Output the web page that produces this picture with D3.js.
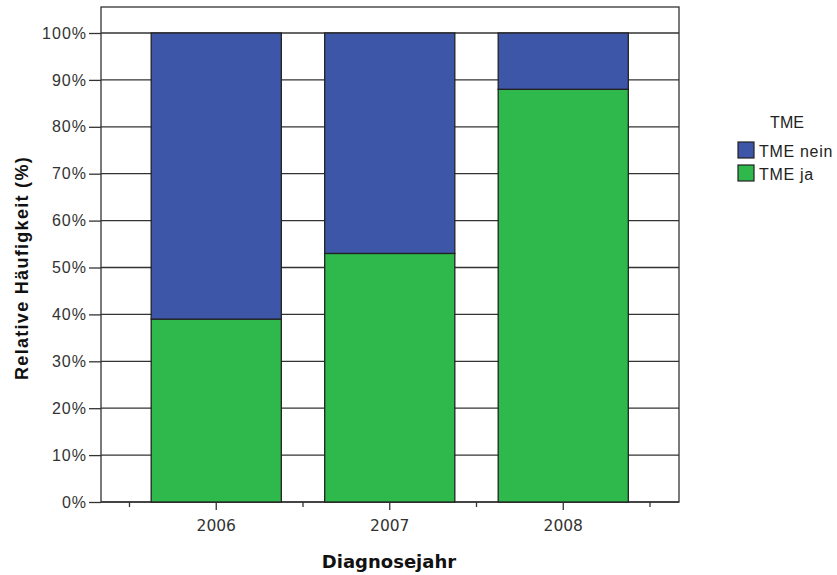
<!DOCTYPE html>
<html>
<head>
<meta charset="utf-8">
<script src="https://cdn.jsdelivr.net/npm/d3@7"></script>
<style>
  body { margin: 0; background: #fff; }
  svg { display: block; }
</style>
</head>
<body>
<div id="chart"></div>
<script>
// data
var years = ["2006", "2007", "2008"];
var tmeJa = [39, 53, 88];      // green, bottom
var tmeNein = [61, 47, 12];    // blue, top
var seriesNames = ["TME nein", "TME ja"];
var yTicks = [0, 10, 20, 30, 40, 50, 60, 70, 80, 90, 100];

var svgWidth = 837;
var svgHeight = 575;

var frame = { left: 101, right: 679, top: 7, bottom: 502 };

var svg = d3.select("#chart")
    .append("svg")
    .attr("width", svgWidth)
    .attr("height", svgHeight);

var rows = years.map(function(y, i) {
    return { year: y, ja: tmeJa[i], nein: tmeNein[i] };
});

var xScale = d3.scaleBand()
    .domain(years)
    .range([129.5, 650])
    .paddingInner(0.25)
    .paddingOuter(0.125);

var yScale = d3.scaleLinear()
    .domain([0, 100])
    .range([502, 33]);

// frame
svg.append("rect")
    .attr("x", frame.left)
    .attr("y", frame.top)
    .attr("width", frame.right - frame.left)
    .attr("height", frame.bottom - frame.top)
    .attr("fill", "#fff")
    .attr("stroke", "#333")
    .attr("stroke-width", 1.3);

// gridlines
svg.append("g")
    .selectAll("line")
    .data(yTicks)
    .enter()
    .append("line")
    .attr("x1", frame.left)
    .attr("x2", frame.right)
    .attr("y1", function(d) { return yScale(d); })
    .attr("y2", function(d) { return yScale(d); })
    .attr("stroke", "#333")
    .attr("stroke-width", 1.3);

// stacked bars
var stack = d3.stack().keys(["ja", "nein"]);
var stacked = stack(rows);
var colors = { ja: "#2fb84b", nein: "#3d56a8" };

svg.append("g")
    .selectAll("g")
    .data(stacked)
    .enter()
    .append("g")
    .attr("fill", function(d) { return colors[d.key]; })
    .selectAll("rect")
    .data(function(d) { return d; })
    .enter()
    .append("rect")
    .attr("x", function(d) { return xScale(d.data.year); })
    .attr("y", function(d) { return yScale(d[1]); })
    .attr("width", xScale.bandwidth())
    .attr("height", function(d) { return yScale(d[0]) - yScale(d[1]); })
    .attr("stroke", "#222")
    .attr("stroke-width", 1.3);

// y axis
var leftAxis = d3.axisLeft(yScale)
    .tickValues(yTicks)
    .tickFormat(function(d) { return d + "%"; })
    .tickSize(12)
    .tickPadding(2);

var yAxisG = svg.append("g")
    .attr("transform", "translate(" + frame.left + ",0)")
    .call(leftAxis);
yAxisG.select(".domain").remove();
yAxisG.selectAll("line").attr("stroke", "#333").attr("stroke-width", 1.3);
yAxisG.selectAll("text")
    .attr("font-family", "Liberation Sans, Arial, sans-serif")
    .attr("font-size", 16)
    .attr("letter-spacing", 1)
    .attr("fill", "#333");

// x axis
var bottomAxis = d3.axisBottom(xScale)
    .tickSize(8);

var xAxisG = svg.append("g")
    .attr("transform", "translate(0," + frame.bottom + ")")
    .call(bottomAxis);
xAxisG.select(".domain").remove();
xAxisG.selectAll("line").attr("stroke", "#333").attr("stroke-width", 1.3);
xAxisG.selectAll("text")
    .attr("y", 18)
    .attr("font-family", "DejaVu Sans, sans-serif")
    .attr("font-size", 15.5)
    .attr("fill", "#333");

// minor ticks between categories
var step = xScale.step();
var bounds = years.map(function(y) { return xScale(y) + xScale.bandwidth() / 2 - step / 2; });
bounds.push(xScale(years[years.length - 1]) + xScale.bandwidth() / 2 + step / 2);
svg.append("g")
    .selectAll("line")
    .data(bounds)
    .enter()
    .append("line")
    .attr("x1", function(d) { return d; })
    .attr("x2", function(d) { return d; })
    .attr("y1", frame.bottom)
    .attr("y2", frame.bottom + 5)
    .attr("stroke", "#333")
    .attr("stroke-width", 1.3);

// axis titles
svg.append("text")
    .attr("transform", "translate(28,268) rotate(-90)")
    .attr("text-anchor", "middle")
    .attr("font-family", "Liberation Sans, Arial, sans-serif")
    .attr("font-weight", "bold")
    .attr("font-size", 18)
    .attr("letter-spacing", 1.3)
    .attr("fill", "#111")
    .text("Relative Häufigkeit (%)");

svg.append("text")
    .attr("x", 389)
    .attr("y", 568)
    .attr("text-anchor", "middle")
    .attr("font-family", "DejaVu Sans, sans-serif")
    .attr("font-weight", "bold")
    .attr("font-size", 18)
    .attr("fill", "#111")
    .text("Diagnosejahr");

// legend
var legend = svg.append("g");
legend.append("text")
    .attr("x", 787)
    .attr("y", 128)
    .attr("text-anchor", "middle")
    .attr("font-family", "Liberation Sans, Arial, sans-serif")
    .attr("font-size", 16)
    .attr("fill", "#222")
    .text("TME");

var legendColors = [colors.nein, colors.ja];
var items = legend.selectAll("g.item")
    .data(seriesNames)
    .enter()
    .append("g")
    .attr("class", "item")
    .attr("transform", function(d, i) { return "translate(738," + (142 + i * 23) + ")"; });

items.append("rect")
    .attr("width", 16)
    .attr("height", 16)
    .attr("fill", function(d, i) { return legendColors[i]; })
    .attr("stroke", "#222")
    .attr("stroke-width", 1.2);

items.append("text")
    .attr("x", 21)
    .attr("y", 15)
    .attr("font-family", "Liberation Sans, Arial, sans-serif")
    .attr("font-size", 16)
    .attr("letter-spacing", 0.7)
    .attr("fill", "#222")
    .text(function(d) { return d; });
</script>
</body>
</html>
